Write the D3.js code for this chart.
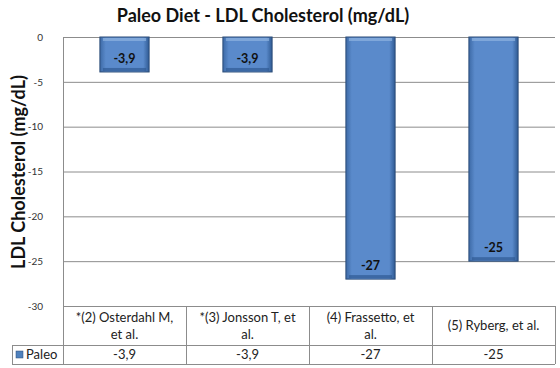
<!DOCTYPE html>
<html><head><meta charset="utf-8">
<script src="https://cdn.jsdelivr.net/npm/d3@7/dist/d3.min.js"></script>
<style>body{margin:0;background:#fff;} svg{display:block;}</style>
</head><body>
<script>
const categories = [["*(2) Osterdahl M,","et al."],["*(3) Jonsson T, et","al."],["(4) Frassetto, et","al."],["(5) Ryberg, et al."]];
const values = [-3.9, -3.9, -27, -25];
const valueLabels = ["-3,9","-3,9","-27","-25"];
const yTicks = [0,-5,-10,-15,-20,-25,-30];
const seriesName = "Paleo";

const W=560,H=368;
const svg=d3.select("body").append("svg").attr("width",W).attr("height",H);
const font="Lato, 'Open Sans', sans-serif";
const defs=svg.append("defs");
const g1=defs.append("linearGradient").attr("id","bg").attr("x1",0).attr("x2",1).attr("y1",0).attr("y2",0);
g1.append("stop").attr("offset","0%").attr("stop-color","#3d6aa6");
g1.append("stop").attr("offset","12%").attr("stop-color","#5a8acb");
g1.append("stop").attr("offset","88%").attr("stop-color","#5a8acb");
g1.append("stop").attr("offset","100%").attr("stop-color","#2f5a93");

const L=63,R=555,T=37,B=306;
const x=d3.scaleBand().domain(d3.range(categories.length)).range([L,R]).paddingInner(0).paddingOuter(0);
const y=d3.scaleLinear().domain([0,-30]).range([T,B]);

// gridlines
svg.append("g").selectAll("line").data(yTicks).join("line")
  .attr("x1",L).attr("x2",R).attr("y1",d=>y(d)+0.5).attr("y2",d=>y(d)+0.5)
  .attr("stroke","#8c8c8c").attr("stroke-width",1);
svg.append("line").attr("x1",L+0.5).attr("x2",L+0.5).attr("y1",T).attr("y2",B).attr("stroke","#8c8c8c");

// y axis
const ya=svg.append("g").attr("transform",`translate(${L},0)`).call(d3.axisLeft(y).tickValues(yTicks).tickSize(0).tickPadding(20).tickFormat(d=>d));
ya.select(".domain").remove();
ya.selectAll("text").attr("font-family",font).attr("font-size",10).attr("fill","#333");

// bars
const bw=x.bandwidth()*0.4;
const bars=svg.append("g").selectAll("g").data(values).join("g");
bars.append("rect")
  .attr("x",(d,i)=>x(i)+(x.bandwidth()-bw)/2).attr("y",y(0)).attr("width",bw).attr("height",d=>y(d)-y(0))
  .attr("fill","url(#bg)").attr("stroke","#2c4d78").attr("stroke-width",1);
bars.append("rect")
  .attr("x",(d,i)=>x(i)+(x.bandwidth()-bw)/2+3).attr("y",y(0)+1).attr("width",bw-6).attr("height",3)
  .attr("fill","#8fb3e0").attr("opacity",0.7);
bars.append("rect")
  .attr("x",(d,i)=>x(i)+(x.bandwidth()-bw)/2+3).attr("y",d=>y(d)-4).attr("width",bw-6).attr("height",3)
  .attr("fill","#2f5a93").attr("opacity",0.7);
bars.append("text")
  .attr("x",(d,i)=>x(i)+x.bandwidth()/2).attr("y",d=>y(d)-9)
  .attr("text-anchor","middle").attr("font-family",font).attr("font-weight","bold").attr("font-size",12.5).attr("fill","#111")
  .text((d,i)=>valueLabels[i]);

// title
svg.append("text").attr("x",263).attr("y",22).attr("text-anchor","middle").attr("font-family",font)
  .attr("font-weight","bold").attr("font-size",18).attr("fill","#111").text("Paleo Diet - LDL Cholesterol (mg/dL)");
// y title
svg.append("text").attr("transform","translate(25,172) rotate(-90)").attr("text-anchor","middle").attr("font-family",font)
  .attr("font-weight","bold").attr("font-size",18).attr("fill","#111").text("LDL Cholesterol (mg/dL)");

// data table
const rowTop=B, rowMid=345, rowBot=364, tLeft=12;
const tg=svg.append("g").attr("stroke","#8c8c8c").attr("stroke-width",1);
tg.append("line").attr("x1",L).attr("x2",R).attr("y1",rowTop+0.5).attr("y2",rowTop+0.5);
tg.append("line").attr("x1",tLeft).attr("x2",R).attr("y1",rowMid+0.5).attr("y2",rowMid+0.5);
tg.append("line").attr("x1",tLeft).attr("x2",R).attr("y1",rowBot+0.5).attr("y2",rowBot+0.5);
tg.append("line").attr("x1",tLeft+0.5).attr("x2",tLeft+0.5).attr("y1",rowMid).attr("y2",rowBot);
const seps=d3.range(categories.length+1).map(i=>i<categories.length?x(i):R);
tg.selectAll(".sep").data(seps).join("line").attr("class","sep")
  .attr("x1",d=>Math.round(d)+0.5).attr("x2",d=>Math.round(d)+0.5).attr("y1",rowTop).attr("y2",rowBot);

const fs=13;
const ct=svg.append("g").selectAll("text").data(categories).join("text")
  .attr("text-anchor","middle").attr("font-family",font).attr("font-size",fs).attr("fill","#222");
ct.each(function(lines,i){
  const t=d3.select(this);
  const cx=x(i)+x.bandwidth()/2;
  const n=lines.length;
  const y0=(rowTop+rowMid)/2 - (n-1)*8.5 + 4.5;
  lines.forEach((s,k)=>t.append("tspan").attr("x",cx).attr("y",y0+k*17).text(s));
});
svg.append("g").selectAll("text").data(valueLabels).join("text")
  .attr("x",(d,i)=>x(i)+x.bandwidth()/2).attr("y",rowBot-5).attr("text-anchor","middle")
  .attr("font-family",font).attr("font-size",fs).attr("fill","#222").text(d=>d);
svg.append("rect").attr("x",16).attr("y",351).attr("width",7).attr("height",7).attr("fill","#4f81bd").attr("stroke","#2c4d78").attr("stroke-width",0.5);
svg.append("text").attr("x",26).attr("y",rowBot-5).attr("font-family",font).attr("font-size",fs).attr("fill","#222").text(seriesName);
</script>
</body></html>
